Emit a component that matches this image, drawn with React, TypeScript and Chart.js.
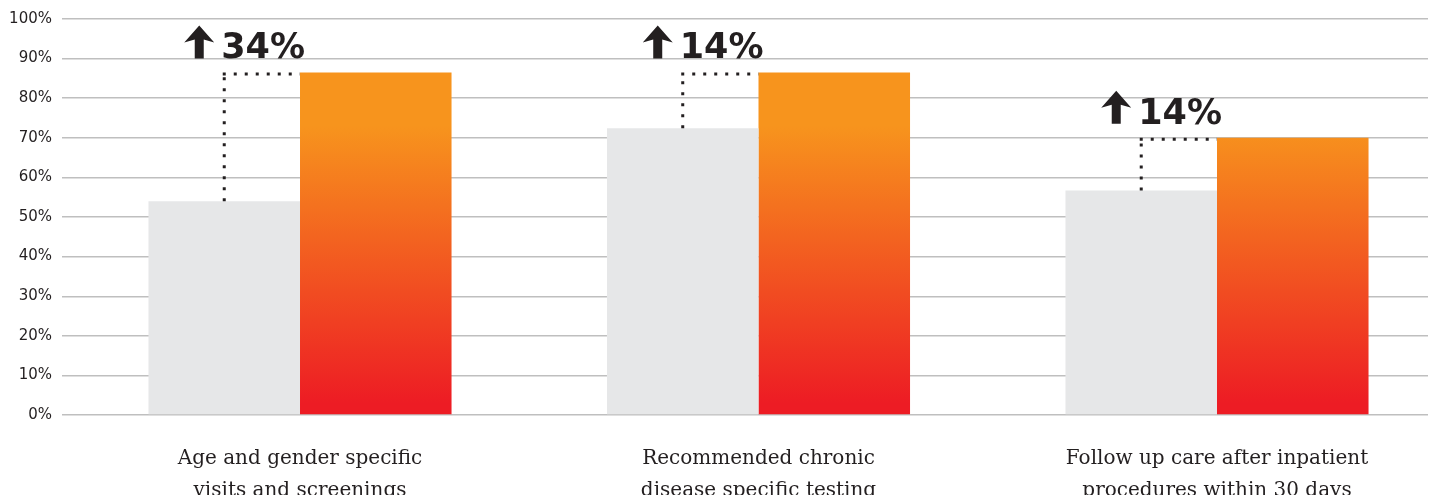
import React, { useEffect, useRef } from "react";
import { Chart, registerables } from "chart.js";

Chart.register(...registerables);

// Measures shown on the x axis (two lines each)
const categories: string[][] = [
  ["Age and gender specific", "visits and screenings"],
  ["Recommended chronic", "disease specific testing"],
  ["Follow up care after inpatient", "procedures within 30 days"],
];

// Rates before and after (percent)
const beforeRates: number[] = [54, 72.4, 56.7];
const afterRates: number[] = [86.5, 86.5, 70];

// Improvement callouts
const increaseLabels: string[] = ["34%", "14%", "14%"];

// Y axis ticks
const yTickValues: number[] = [0, 10, 20, 30, 40, 50, 60, 70, 80, 90, 100];

const GREY = "#e6e7e8";
const ORANGE_TOP = "#f7941d";
const RED_BOTTOM = "#ed1c24";
const INK = "#231f20";

const calloutPlugin = {
  id: "increaseCallouts",
  afterDatasetsDraw(chart: any) {
    const ctx = chart.ctx as CanvasRenderingContext2D;
    const greyMeta = chart.getDatasetMeta(0);
    const orangeMeta = chart.getDatasetMeta(1);
    categories.forEach((_, i) => {
      const g = greyMeta.data[i] as any;
      const o = orangeMeta.data[i] as any;
      if (!g || !o) return;
      const lineX = g.x;
      const topY = o.y;
      const orangeLeft = o.x - o.width / 2;

      // dotted connector from the grey bar up and across to the orange bar
      ctx.save();
      ctx.strokeStyle = INK;
      ctx.lineWidth = 3;
      ctx.lineCap = "butt";
      ctx.setLineDash([3, 8]);
      ctx.beginPath();
      ctx.moveTo(lineX, g.y);
      ctx.lineTo(lineX, topY + 1.5);
      ctx.stroke();
      ctx.beginPath();
      ctx.moveTo(lineX - 1.5, topY + 1.5);
      ctx.lineTo(orangeLeft, topY + 1.5);
      ctx.stroke();
      ctx.restore();

      // up arrow + percentage
      const baseY = topY - 14;
      const cx = lineX - 25;
      const top = baseY - 33;
      ctx.save();
      ctx.fillStyle = INK;
      ctx.beginPath();
      ctx.moveTo(cx, top);
      ctx.lineTo(cx + 15, top + 17);
      ctx.lineTo(cx + 4.5, top + 14);
      ctx.lineTo(cx + 4.5, baseY);
      ctx.lineTo(cx - 4.5, baseY);
      ctx.lineTo(cx - 4.5, top + 14);
      ctx.lineTo(cx - 15, top + 17);
      ctx.closePath();
      ctx.fill();
      ctx.font = "bold 35px 'DejaVu Sans'";
      ctx.textAlign = "left";
      ctx.textBaseline = "alphabetic";
      ctx.fillText(increaseLabels[i], lineX - 3, baseY);
      ctx.restore();
    });
  },
};

export default function App() {
  const canvasRef = useRef<HTMLCanvasElement | null>(null);

  useEffect(() => {
    const canvas = canvasRef.current;
    if (!canvas) return;

    const orangeFill = (context: any) => {
      const chart = context.chart;
      const yScale = chart.scales?.y;
      if (!chart.chartArea || !yScale) return ORANGE_TOP;
      const y0 = yScale.getPixelForValue(73);
      const y1 = yScale.getPixelForValue(3);
      const grad = chart.ctx.createLinearGradient(0, y0, 0, y1);
      grad.addColorStop(0, ORANGE_TOP);
      grad.addColorStop(1, RED_BOTTOM);
      return grad;
    };

    const chart = new Chart(canvas, {
      type: "bar",
      data: {
        datasets: [
          {
            label: "Before",
            data: beforeRates.map((v, i) => ({ x: i, y: v })),
            backgroundColor: GREY,
            borderWidth: 0,
            categoryPercentage: 0.661,
            barPercentage: 1,
          },
          {
            label: "After",
            data: afterRates.map((v, i) => ({ x: i, y: v })),
            backgroundColor: orangeFill,
            borderWidth: 0,
            categoryPercentage: 0.661,
            barPercentage: 1,
          },
        ],
      },
      options: {
        responsive: false,
        animation: false,
        layout: { padding: { left: 0, right: 7, top: 18, bottom: 0 } },
        plugins: {
          legend: { display: false },
          tooltip: { enabled: false },
        },
        scales: {
          x: {
            type: "linear",
            offset: false,
            bounds: "data",
            min: -0.5191,
            max: 2.4602,
            grid: { display: false, offset: false },
            border: { display: false },
            afterBuildTicks: (scale: any) => {
              scale.ticks = categories.map((_, i) => ({ value: i }));
            },
            afterFit: (scale: any) => {
              scale.height = 80;
            },
            ticks: {
              autoSkip: false,
              maxRotation: 0,
              padding: 20,
              color: INK,
              font: { family: "'DejaVu Serif'", size: 20, lineHeight: 1.6 },
              callback: (value: any) => categories[value as number] ?? "",
            },
          },
          y: {
            min: 0,
            max: 100,
            afterBuildTicks: (scale: any) => {
              scale.ticks = yTickValues.map((v) => ({ value: v }));
            },
            afterFit: (scale: any) => {
              scale.width = 62;
            },
            grid: { color: "#bfbfbf", lineWidth: 1.4, drawTicks: false },
            border: { display: false },
            ticks: {
              padding: 10,
              color: INK,
              font: { family: "'DejaVu Sans'", size: 15 },
              callback: (value: any) => `${value}%`,
            },
          },
        },
      },
      plugins: [calloutPlugin],
    });

    return () => chart.destroy();
  }, []);

  return (
    <div style={{ position: "absolute", left: 0, top: 0, width: 1435, height: 495, background: "#ffffff" }}>
      <canvas ref={canvasRef} width={1435} height={495} style={{ display: "block" }} />
    </div>
  );
}
